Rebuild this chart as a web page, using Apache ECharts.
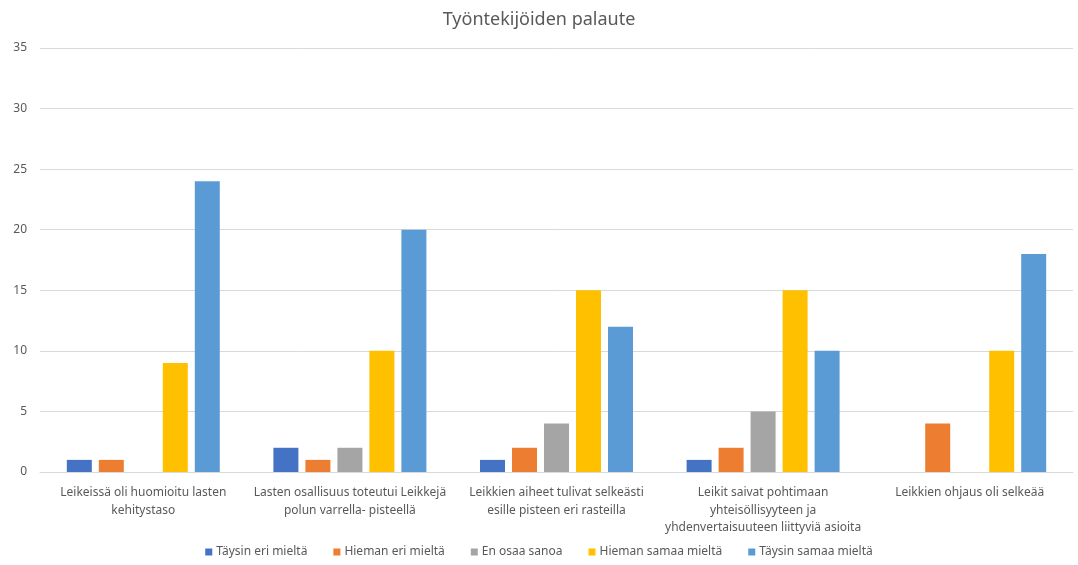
<!DOCTYPE html>
<html><head><meta charset="utf-8">
<script src="https://cdn.jsdelivr.net/npm/echarts@6/dist/echarts.min.js"></script>
<style>html,body{margin:0;padding:0;background:#fff}#c{width:1078px;height:565px}</style>
</head><body><div id="c"></div>
<script>
const titleText = 'Työntekijöiden palaute';
const categories = [
  'Leikeissä oli huomioitu lasten\nkehitystaso',
  'Lasten osallisuus toteutui Leikkejä\npolun varrella- pisteellä',
  'Leikkien aiheet tulivat selkeästi\nesille pisteen eri rasteilla',
  'Leikit saivat pohtimaan\nyhteisöllisyyteen ja\nyhdenvertaisuuteen liittyviä asioita',
  'Leikkien ohjaus oli selkeää'
];
const seriesNames = ['Täysin eri mieltä','Hieman eri mieltä','En osaa sanoa','Hieman samaa mieltä','Täysin samaa mieltä'];
const taysinEri = [1, 2, 1, 1, 0];
const hiemanEri = [1, 1, 2, 2, 4];
const enOsaa = [0, 2, 4, 5, 0];
const hiemanSamaa = [9, 10, 15, 15, 10];
const taysinSamaa = [24, 20, 12, 10, 18];
const yTicks = [0, 5, 10, 15, 20, 25, 30, 35];
const colors = ['#4472C4','#ED7D31','#A5A5A5','#FFC000','#5B9BD5'];

const values = [taysinEri, hiemanEri, enOsaa, hiemanSamaa, taysinSamaa];
const font = 'Noto Sans, Liberation Sans, sans-serif';
const chart = echarts.init(document.getElementById('c'), null, {renderer:'canvas'});
chart.setOption({
  animation:false,
  color: colors,
  title:{text:titleText,left:'center',top:6,textStyle:{fontFamily:font,fontSize:18,fontWeight:'normal',color:'#595959'}},
  grid:{left:40,right:5,top:48,bottom:93,containLabel:false},
  legend:{bottom:2,left:'center',itemWidth:7,itemHeight:7,itemGap:26,icon:'rect',
    textStyle:{fontFamily:font,fontSize:12,color:'#595959',padding:[0,0,0,-1]},data:seriesNames},
  xAxis:{type:'category',data:categories,
    axisLine:{lineStyle:{color:'#D9D9D9'}},axisTick:{show:false},
    axisLabel:{fontFamily:font,fontSize:12,color:'#595959',margin:12,lineHeight:17.5,interval:0}},
  yAxis:{type:'value',min:yTicks[0],max:yTicks[yTicks.length-1],interval:5,
    axisLine:{show:false},axisTick:{show:false},
    splitLine:{lineStyle:{color:'#D9D9D9'}},
    axisLabel:{fontFamily:font,fontSize:12,color:'#595959',margin:13}},
  series: seriesNames.map((n,i)=>({name:n,type:'bar',data:values[i],barWidth:25,barGap:'28%'}))
});
</script></body></html>
